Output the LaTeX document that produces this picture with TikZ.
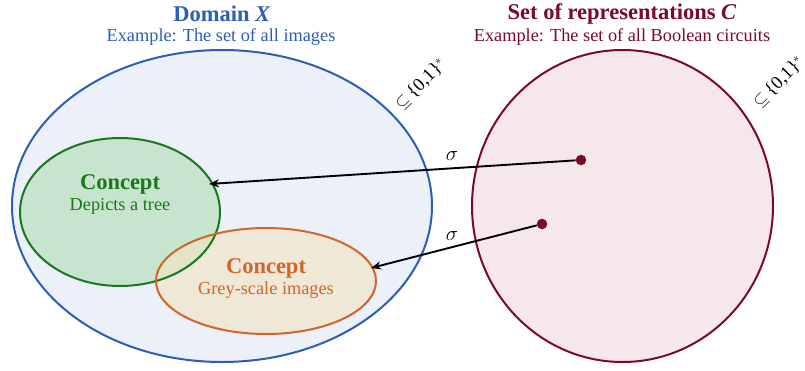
\documentclass[tikz,border=0pt]{standalone}
\usepackage{fontspec}
\setmainfont{Liberation Serif}
\usetikzlibrary{arrows.meta}
\definecolor{dblue}{HTML}{2D5DB5}
\definecolor{lblue}{HTML}{EBF0F9}
\definecolor{dgreen}{HTML}{1B771B}
\definecolor{lgreen}{HTML}{C6E4CE}
\definecolor{dorange}{HTML}{D0662A}
\definecolor{lorange}{HTML}{F2E5C6}
\definecolor{dred}{HTML}{7B0A2A}
\definecolor{lred}{HTML}{F6E7EB}
\tikzset{
  setline/.style={line width=2pt},
  dotnode/.style={circle,fill=dred,inner sep=0pt,minimum size=10.5pt},
  mapping/.style={line width=1.9pt,-{Stealth[length=10pt,width=8pt]}},
  titletext/.style={font=\fontsize{22.5}{25}\selectfont\bfseries},
  subtext/.style={font=\fontsize{18.3}{21}\selectfont},
  sublabel/.style={inner sep=0pt,rotate=45,font=\fontsize{18.5}{21}\selectfont},
  lbl/.style={inner sep=0pt},
}
\begin{document}
\begin{tikzpicture}[x=1pt,y=-1pt]
\useasboundingbox (0,0) rectangle (805,370);
% big sets
\filldraw[setline,draw=dblue,fill=lblue] (222,206) ellipse [x radius=210pt, y radius=156pt];
\filldraw[setline,draw=dred,fill=lred] (622.5,206) ellipse [x radius=150.5pt, y radius=156pt];
% concepts
\fill[lgreen] (120,212) ellipse [x radius=100pt, y radius=74pt];
\fill[lorange,opacity=0.65] (266,281) ellipse [x radius=110pt, y radius=53pt];
\draw[setline,draw=dgreen] (120,212) ellipse [x radius=100pt, y radius=74pt];
\draw[setline,draw=dorange] (266,281) ellipse [x radius=110pt, y radius=53pt];
% titles
\node[lbl,titletext,text=dblue] (tx) at (222,14) {Domain \textit{X}};
\node[lbl,subtext,text=dblue] (sx) at (221,37) {Example: The set of all images};
\node[lbl,titletext,text=dred] (tc) at (622,14) {Set of representations \textit{C}};
\node[lbl,subtext,text=dred] (sc) at (622,37) {Example: The set of all Boolean circuits};
% subset labels
\node[sublabel] (bx) at (421,84) {$\subseteq$\,\{0,1\}$^*$};
\node[sublabel] (bc) at (779,82) {$\subseteq$\,\{0,1\}$^*$};
% concept texts
\node[lbl,titletext,text=dgreen] (cg) at (120,184) {Concept};
\node[lbl,subtext,text=dgreen] (dg) at (120,206) {Depicts a tree};
\node[lbl,titletext,text=dorange] (co) at (266,268) {Concept};
\node[lbl,subtext,text=dorange] (do) at (266,290) {Grey-scale images};
% points and mappings
\node[dotnode] (p1) at (581,160) {};
\node[dotnode] (p2) at (542,224) {};
\coordinate (g1) at (209,184);
\coordinate (o1) at (371,268);
\draw[mapping] (p1) -- (g1);
\draw[mapping] (p2) -- (o1);
\node[lbl,font=\fontsize{21}{23}\selectfont] (s1) at (452,156) {$\sigma$};
\node[lbl,font=\fontsize{21}{23}\selectfont] (s2) at (452,236) {$\sigma$};
\end{tikzpicture}
\end{document}
